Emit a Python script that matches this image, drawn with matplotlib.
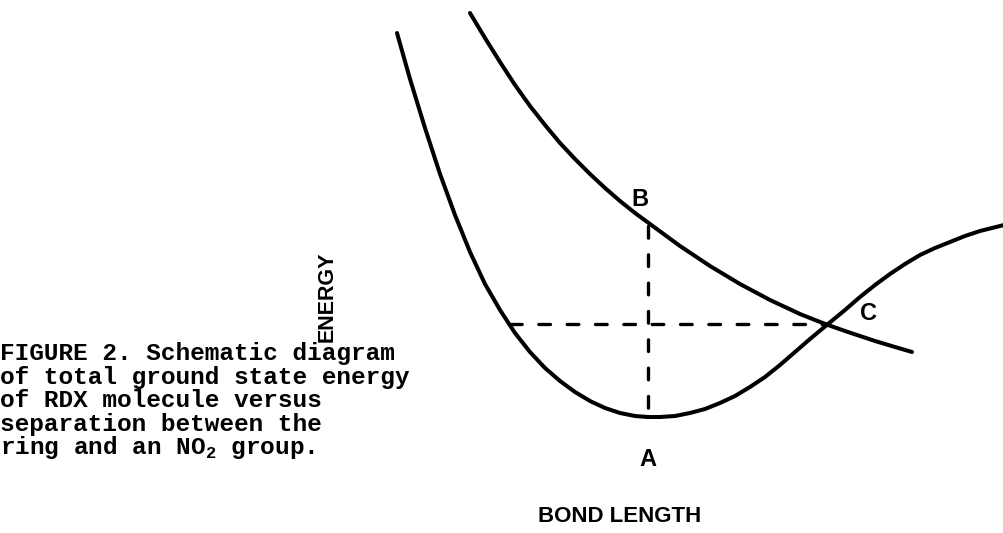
import matplotlib.pyplot as plt

# Data (schematic, in picture units)
ground_x = [397, 410, 425, 440, 455, 470, 485, 500, 515, 530, 545, 560, 575, 590,
            605, 620, 635, 648, 660, 675, 690, 705, 720, 735, 750, 765, 780, 795,
            810, 828, 845, 860, 875, 890, 905, 920, 935, 950, 965, 980, 1004]
ground_y = [33, 79, 128, 174, 215, 252, 284, 310, 333, 352, 368, 381, 392, 401,
            408, 413, 416, 417, 417, 416, 413, 409, 403, 396, 387, 377, 365, 352,
            339, 324, 310, 297, 285, 274, 264, 255, 248, 242, 236, 231, 225]

excited_x = [470, 485, 500, 515, 530, 545, 560, 575, 590, 605, 620, 635, 650, 665,
             680, 695, 710, 725, 740, 755, 770, 785, 800, 815, 828, 845, 860, 875,
             895, 912]
excited_y = [13, 38, 62, 85, 106, 125, 143, 159, 174, 188, 201, 213, 224, 235,
             246, 256, 266, 275, 284, 292, 300, 307, 314, 320, 325, 331, 336, 341,
             347, 352]

# dashed guides: level of C, and vertical A -> B
level_c = 324
level_x = [510, 828]
x_ab = 648
y_ab = [226, 417]

caption = [
    "FIGURE 2. Schematic diagram",
    "of total ground state energy",
    "of RDX molecule versus",
    "separation between the",
    "ring and an NO$_2$ group.",
]

plt.rcParams['mathtext.fontset'] = 'custom'
plt.rcParams['mathtext.rm'] = 'Liberation Mono:bold'

fig = plt.figure(figsize=(10.04, 5.33), dpi=100)
ax = fig.add_axes([0, 0, 1, 1])
ax.set_xlim(0, 1004)
ax.set_ylim(533, 0)
ax.axis('off')

ax.plot(ground_x, ground_y, color='black', linewidth=2.9,
        solid_capstyle='round', solid_joinstyle='round')
ax.plot(excited_x, excited_y, color='black', linewidth=2.9,
        solid_capstyle='round', solid_joinstyle='round')

ax.plot(level_x, [level_c, level_c], color='black', linewidth=2.4,
        dashes=(3.5, 5), dash_capstyle='round')
ax.plot([x_ab, x_ab], y_ab, color='black', linewidth=2.4,
        dashes=(3.5, 5), dash_capstyle='round')

label_font = 'Liberation Sans'
ax.text(640, 199, "B", fontsize=17, fontweight='bold', family=label_font,
        ha='center', va='center')
ax.text(648, 460, "A", fontsize=17, fontweight='bold', family=label_font,
        ha='center', va='center')
ax.text(869, 313, "C", fontsize=17, fontweight='bold', family=label_font,
        ha='center', va='center')

ax.text(620, 516, "BOND LENGTH", fontsize=16, fontweight='bold', family=label_font,
        ha='center', va='center')
ax.text(327, 297, "ENERGY", fontsize=15.5, fontweight='bold', family=label_font,
        rotation=90, ha='center', va='center')

for i, line in enumerate(caption):
    ax.text(0, 360 + i * 23.6, line, fontsize=17.6, fontweight='bold',
            family=['Liberation Mono', 'DejaVu Sans Mono'], ha='left', va='baseline')

plt.savefig("out.png", dpi=100)
